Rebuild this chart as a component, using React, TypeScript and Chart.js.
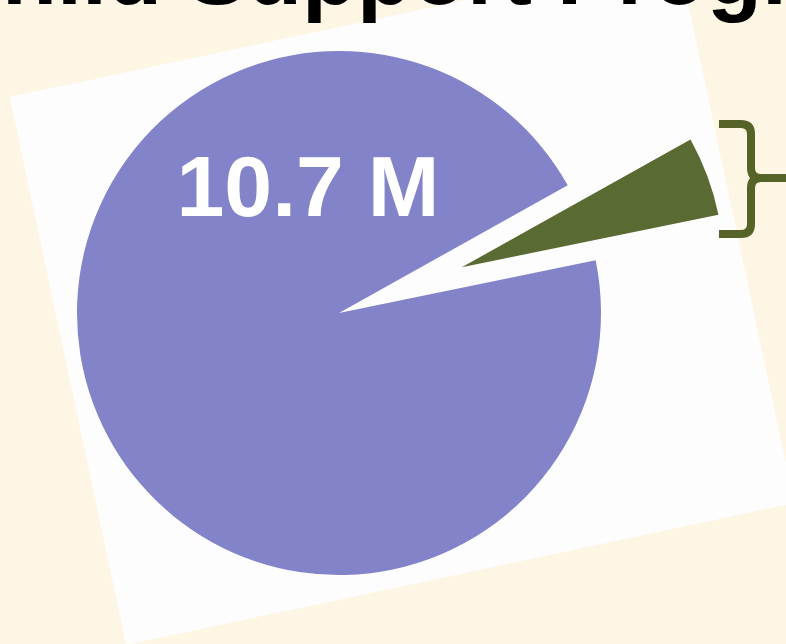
import React, { useEffect, useRef } from "react";
import { Chart, registerables } from "chart.js";

Chart.register(...registerables);

const categories = ["Other cases", "Highlighted cases"];
const values = [10.7, 0.55];
const sliceColors = ["#8383C9", "#5A6A33"];
const centerLabel = "10.7 M";
const titleText = "Child Support Program";

const FONT = "'Liberation Sans', Arial, Helvetica, sans-serif";

const backgroundPlugin = {
  id: "slideBackground",
  beforeDraw(chart: any) {
    const ctx = chart.ctx;
    ctx.save();
    ctx.fillStyle = "#FEF6E5";
    ctx.fillRect(0, 0, chart.width, chart.height);
    // tilted white card
    ctx.translate(402, 300);
    ctx.rotate((-12 * Math.PI) / 180);
    ctx.fillStyle = "#FDFDFE";
    ctx.fillRect(-341.5, -280, 683, 560);
    ctx.restore();
    // title (cut off at top)
    ctx.save();
    ctx.fillStyle = "#000000";
    ctx.font = `bold 90px ${FONT}`;
    ctx.textAlign = "left";
    ctx.textBaseline = "alphabetic";
    ctx.fillText(titleText, -63, 4);
    ctx.restore();
  },
};

const explodePlugin = {
  id: "explodeSlice",
  afterDatasetsUpdate(chart: any) {
    const meta = chart.getDatasetMeta(0);
    const arc = meta.data[1];
    if (!arc) return;
    const mid = (arc.startAngle + arc.endAngle) / 2;
    const dist = 131;
    arc.x = arc.x + Math.cos(mid) * dist;
    arc.y = arc.y + Math.sin(mid) * dist;
  },
};

const overlayPlugin = {
  id: "overlay",
  afterDraw(chart: any) {
    const ctx = chart.ctx;
    ctx.save();
    ctx.fillStyle = "#FFFFFF";
    ctx.font = `bold 86px ${FONT}`;
    ctx.textAlign = "center";
    ctx.textBaseline = "alphabetic";
    ctx.fillText(centerLabel, 308, 216);
    ctx.restore();

    // curly brace
    ctx.save();
    ctx.strokeStyle = "#556228";
    ctx.lineWidth = 8;
    ctx.lineJoin = "round";
    ctx.lineCap = "butt";
    ctx.beginPath();
    ctx.moveTo(719, 124);
    ctx.lineTo(741, 124);
    ctx.quadraticCurveTo(751, 124, 751, 134);
    ctx.lineTo(751, 168);
    ctx.quadraticCurveTo(751, 178, 761, 178);
    ctx.lineTo(792, 178);
    ctx.moveTo(761, 178);
    ctx.quadraticCurveTo(751, 178, 751, 188);
    ctx.lineTo(751, 224);
    ctx.quadraticCurveTo(751, 234, 741, 234);
    ctx.lineTo(719, 234);
    ctx.stroke();
    ctx.restore();
  },
};

export default function App() {
  const canvasRef = useRef<HTMLCanvasElement | null>(null);

  useEffect(() => {
    const canvas = canvasRef.current;
    if (!canvas) return;
    const chart = new Chart(canvas, {
      type: "pie",
      data: {
        labels: categories,
        datasets: [
          {
            data: values,
            backgroundColor: sliceColors,
            borderWidth: 0,
          },
        ],
      },
      options: {
        responsive: false,
        animation: false,
        devicePixelRatio: 1,
        rotation: 78.4,
        radius: 262,
        layout: { padding: { left: 0, right: 108, top: 0, bottom: 18 } },
        plugins: {
          legend: { display: false },
          tooltip: { enabled: false },
          title: { display: false },
        },
      },
      plugins: [backgroundPlugin, explodePlugin, overlayPlugin],
    });
    return () => chart.destroy();
  }, []);

  return (
    <div
      style={{
        position: "absolute",
        left: 0,
        top: 0,
        width: 786,
        height: 644,
        overflow: "hidden",
        background: "#FEF6E5",
      }}
    >
      <canvas ref={canvasRef} width={786} height={644} />
    </div>
  );
}
